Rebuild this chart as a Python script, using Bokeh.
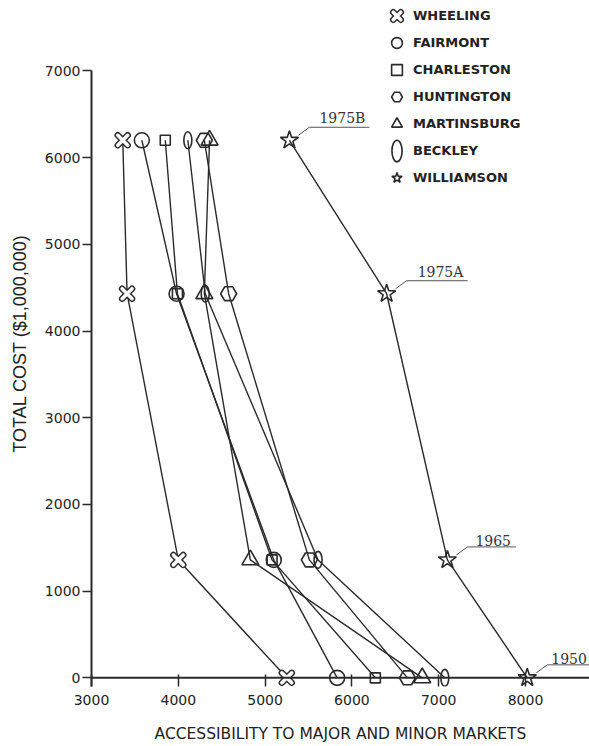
from bokeh.plotting import figure
from bokeh.models import Span, Legend, LegendItem, FixedTicker, Range1d
from bokeh.core.properties import value
from bokeh.embed import file_html
from bokeh.resources import INLINE

# ---- data ----
cost = [6200, 4430, 1360, 0]                 # 1975B, 1975A, 1965, 1950
period_labels = ["1975B", "1975A", "1965", "1950"]
wheeling = [3360, 3410, 4000, 5250]
fairmont = [3580, 3980, 5100, 5830]
charleston = [3850, 3990, 5080, 6270]
huntington = [4300, 4580, 5510, 6640]
martinsburg = [4360, 4300, 4830, 6810]
beckley = [4110, 4310, 5610, 7070]
williamson = [5280, 6400, 7100, 8020]
x_ticks = [3000, 4000, 5000, 6000, 7000, 8000]
y_ticks = [0, 1000, 2000, 3000, 4000, 5000, 6000, 7000]

# ---- layout ----
W, H = 589, 746
BL, BR, BT, BB = 91, 0, 0, 60
FW, FH = W - BL - BR, H - BT - BB
X0, X1 = 3000, 8737
Y0, Y1 = -100, 7812
PX = (X1 - X0) / FW
PY = (Y1 - Y0) / FH

INK = "#2a2a2a"

p = figure(width=W, height=H, x_range=Range1d(X0, X1), y_range=Range1d(Y0, Y1),
           output_backend="svg", toolbar_location=None,
           min_border_left=BL, min_border_right=BR, min_border_top=BT, min_border_bottom=BB)
p.grid.visible = False
p.outline_line_color = None

# axes
yax = p.yaxis[0]
yax.ticker = FixedTicker(ticks=y_ticks)
yax.bounds = (Y0, 7000)
yax.major_tick_out = 9
yax.major_tick_in = 0
yax.major_label_standoff = 2
yax.axis_line_width = 2
yax.axis_line_color = INK
yax.major_tick_line_width = 1.5
yax.major_tick_line_color = INK
yax.major_label_text_font = "DejaVu Sans"
yax.major_label_text_font_size = "14px"
yax.major_label_text_color = "#222"
yax.axis_label = "TOTAL COST ($1,000,000)"
yax.axis_label_text_font = "Liberation Sans"
yax.axis_label_text_font_style = "normal"
yax.axis_label_text_font_size = "18px"
yax.axis_label_text_color = "#222"
yax.axis_label_standoff = 12

xax = p.xaxis[0]
xax.ticker = FixedTicker(ticks=x_ticks)
xax.axis_line_alpha = 0
xax.major_tick_in = 12
xax.major_tick_out = 0
xax.major_tick_line_width = 1.5
xax.major_tick_line_color = INK
xax.major_label_standoff = 8
xax.major_label_text_font = "DejaVu Sans"
xax.major_label_text_font_size = "14px"
xax.major_label_text_color = "#222"
xax.axis_label = "ACCESSIBILITY TO MAJOR AND MINOR MARKETS"
xax.axis_label_text_font = "DejaVu Sans"
xax.axis_label_text_font_style = "normal"
xax.axis_label_text_font_size = "15.5px"
xax.axis_label_text_color = "#222"
xax.axis_label_standoff = 17

p.add_layout(Span(location=0, dimension="width", line_color=INK, line_width=2))

# connecting lines
for xs in [wheeling, fairmont, charleston, huntington, martinsburg, beckley, williamson]:
    p.line(x=xs, y=cost, line_color=INK, line_width=1.4)

# markers
mk = dict(fill_color=None, line_color=INK, line_width=1.6)
r_wh1 = p.scatter(x=wheeling, y=cost, marker="x", size=14, line_color=INK, line_width=6.5, line_cap="round")
r_wh2 = p.scatter(x=wheeling, y=cost, marker="x", size=14, line_color="white", line_width=3.6, line_cap="round")
r_fa = p.scatter(x=fairmont, y=cost, marker="circle", size=15, **mk)
r_ch = p.scatter(x=charleston, y=cost, marker="square", size=10, **mk)
r_hu = p.scatter(x=huntington, y=cost, marker="hex", size=16, **mk)
r_ma = p.scatter(x=martinsburg, y=cost, marker="triangle", size=17, **mk)
r_be = p.ellipse(x=beckley, y=cost, width=8, height=17, width_units="screen", height_units="screen", **mk)
r_wi = p.scatter(x=williamson, y=cost, marker="star", size=19, **mk)

# period annotations along Williamson
label_dx = [30, 31, 28, 24]
lead_xs, lead_ys = [], []
for wx, c, lab, dx in zip(williamson, cost, period_labels, label_dx):
    end = dx + 9.6 * len(lab) + 2
    lead_xs.append([wx + 9 * PX, wx + 20 * PX, wx + end * PX])
    lead_ys.append([c + 5 * PY, c + 13 * PY, c + 13 * PY])
p.multi_line(xs=lead_xs, ys=lead_ys, line_color="#555", line_width=1)
p.text(x=williamson, y=cost, text=period_labels, x_offset=label_dx, y_offset=-14,
       text_baseline="bottom", text_align="left",
       text_font=value("DejaVu Serif"), text_font_size="14px", text_color="#333")

legend = Legend(items=[
    LegendItem(label="WHEELING", renderers=[r_wh1, r_wh2]),
    LegendItem(label="FAIRMONT", renderers=[r_fa]),
    LegendItem(label="CHARLESTON", renderers=[r_ch]),
    LegendItem(label="HUNTINGTON", renderers=[r_hu]),
    LegendItem(label="MARTINSBURG", renderers=[r_ma]),
    LegendItem(label="BECKLEY", renderers=[r_be]),
    LegendItem(label="WILLIAMSON", renderers=[r_wi]),
], location=(292, 495), glyph_width=27, glyph_height=27, spacing=0, padding=0, margin=0,
    label_standoff=3, label_text_font="DejaVu Sans", label_text_font_style="bold",
    label_text_font_size="13px", label_text_color="#222",
    border_line_alpha=0, background_fill_alpha=0)
p.add_layout(legend)

open("out.html", "w").write(file_html(p, INLINE))
